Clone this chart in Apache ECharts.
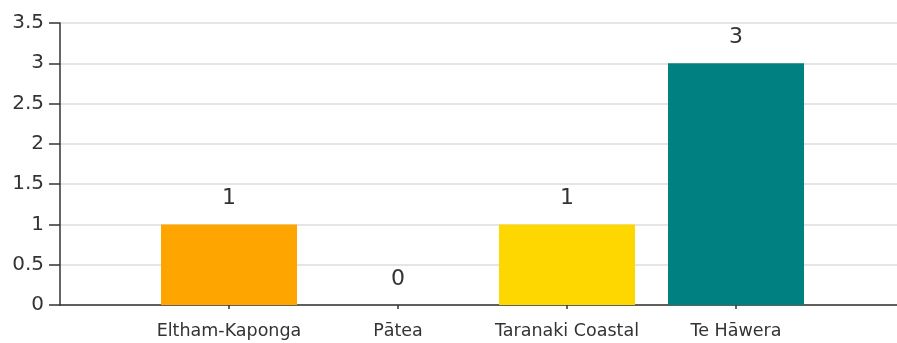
<!DOCTYPE html>
<html>
<head>
<meta charset="utf-8">
<script src="https://cdn.jsdelivr.net/npm/echarts@6/dist/echarts.min.js"></script>
<style>
  html, body { margin: 0; padding: 0; background: #fff; }
  #chart { width: 897px; height: 343px; }
</style>
</head>
<body>
<div id="chart"></div>
<script>
// Ward names; blank slots pad each end of the axis
const categories = ['', 'Eltham-Kaponga', 'Pātea', 'Taranaki Coastal', 'Te Hāwera', ''];
const values = ['-', 1, 0, 1, 3, '-'];
const barColors = ['#ffa500', '#ffa500', '#808080', '#ffd700', '#008080', '#008080'];
const yTicks = { min: 0, max: 3.5, step: 0.5 };

const chart = echarts.init(document.getElementById('chart'), null, { renderer: 'canvas' });

chart.setOption({
  animation: false,
  backgroundColor: '#ffffff',
  grid: { left: 60, top: 23, bottom: 38, width: 845, containLabel: false, outerBoundsMode: 'none' },
  xAxis: {
    type: 'category',
    data: categories,
    boundaryGap: false,
    axisLine: { show: true, lineStyle: { color: '#333', width: 1.5 } },
    axisTick: {
      show: true,
      length: 4,
      interval: function (i) { return i > 0 && i < categories.length - 1; },
      lineStyle: { color: '#333', width: 1.5 }
    },
    axisLabel: {
      interval: 0,
      margin: 17,
      color: '#333',
      fontFamily: 'DejaVu Sans',
      fontSize: 17.5
    },
    splitLine: { show: false }
  },
  yAxis: {
    type: 'value',
    min: yTicks.min,
    max: yTicks.max,
    interval: yTicks.step,
    axisLine: { show: true, lineStyle: { color: '#333', width: 1.5 } },
    axisTick: { show: true, inside: false, length: 11, lineStyle: { color: '#333', width: 1.5 } },
    axisLabel: {
      margin: 16,
      color: '#333',
      fontFamily: 'DejaVu Sans',
      fontSize: 20
    },
    splitLine: { show: true, lineStyle: { color: '#dcdcdc', width: 1.5 } }
  },
  series: [{
    type: 'bar',
    data: values.map(function (v, i) {
      return { value: v, itemStyle: { color: barColors[i] } };
    }),
    barWidth: 136,
    label: {
      show: true,
      position: 'top',
      distance: 15,
      color: '#333',
      fontFamily: 'DejaVu Sans',
      fontSize: 22
    }
  }]
});
</script>
</body>
</html>
